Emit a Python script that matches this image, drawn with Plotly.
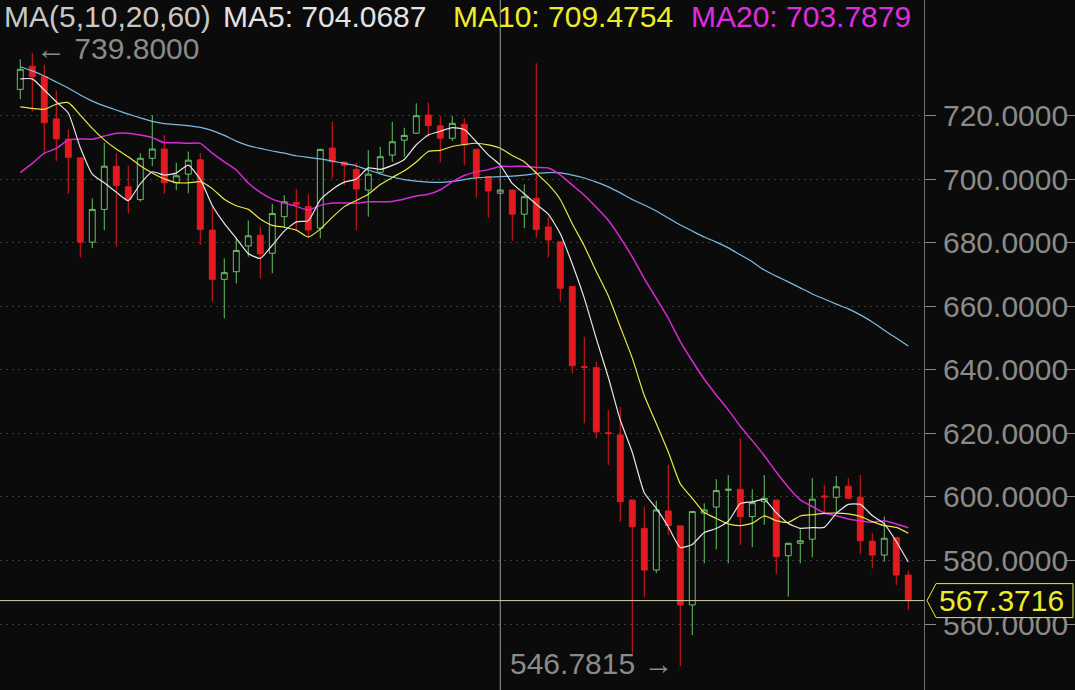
import plotly.graph_objects as go
import pandas as pd

# ---------------- data ----------------
idx = list(range(75))
opens = [728.3, 735.6, 732.3, 719.0, 712.6, 706.7, 680.2, 690.5, 704.1, 697.6,
         693.6, 706.6, 709.5, 698.9, 701.6, 706.1, 684.0, 668.5, 670.9, 679.0,
         682.4, 676.7, 688.2, 692.7, 691.4, 684.6, 709.8, 705.4, 703.1, 696.6,
         702.2, 707.6, 712.3, 714.5, 720.2, 716.8, 712.9, 717.3, 709.4, 700.8,
         695.6, 696.6, 689.0, 694.0, 685.0, 680.3, 666.2, 641.0, 640.7, 620.2,
         619.5, 599.0, 590.1, 577.0, 595.6, 590.9, 566.0, 594.9, 596.8, 602.1,
         602.4, 593.8, 598.5, 599.0, 581.5, 585.4, 586.7, 600.3, 599.9, 603.4,
         599.9, 586.1, 581.7, 587.2, 575.4]
highs = [737.8, 739.8, 736.0, 727.9, 715.7, 707.0, 694.0, 711.5, 708.2, 704.2,
         708.2, 720.2, 713.9, 705.2, 708.7, 708.2, 691.9, 675.1, 681.4, 687.0,
         685.1, 692.2, 695.0, 696.9, 695.3, 709.6, 718.1, 705.6, 705.2, 709.2,
         710.2, 718.1, 716.2, 723.9, 724.1, 719.9, 719.9, 719.2, 709.6, 701.0,
         696.8, 696.8, 698.4, 736.5, 688.1, 680.5, 666.4, 650.4, 642.6, 627.4,
         628.4, 599.2, 596.9, 598.8, 610.1, 591.1, 595.6, 598.0, 605.6, 606.9,
         618.5, 602.4, 606.9, 599.2, 585.6, 589.8, 605.9, 603.8, 606.6, 605.9,
         606.9, 588.6, 593.8, 587.4, 576.8]
lows = [725.2, 721.3, 708.2, 705.8, 695.4, 675.4, 678.3, 684.0, 678.8, 689.3,
        692.9, 704.2, 695.4, 696.6, 695.6, 679.3, 661.5, 656.2, 667.2, 675.6,
        668.8, 670.4, 684.6, 684.2, 681.9, 681.4, 700.3, 698.2, 684.0, 688.2,
        701.9, 705.5, 707.1, 714.3, 713.4, 705.3, 712.0, 704.5, 694.2, 687.9,
        695.4, 680.6, 684.6, 681.6, 675.4, 661.5, 638.9, 623.2, 618.5, 610.1,
        592.2, 550.8, 568.6, 576.0, 588.0, 546.7815, 556.5, 579.1, 583.5, 579.1,
        584.9, 584.2, 591.2, 575.7, 568.6, 579.1, 581.0, 594.6, 594.6, 599.4,
        582.0, 577.5, 579.6, 572.3, 564.4]
closes = [734.6, 732.3, 717.8, 712.7, 706.9, 680.2, 690.5, 704.1, 698.0, 693.6,
          706.6, 709.5, 698.9, 701.1, 706.0, 684.2, 668.5, 670.6, 677.6, 682.2,
          676.5, 689.2, 692.9, 692.1, 684.0, 709.4, 705.5, 704.4, 696.9, 701.6,
          707.1, 711.8, 713.8, 720.0, 716.9, 712.9, 717.6, 710.8, 700.8, 696.3,
          696.6, 689.0, 694.5, 684.2, 680.9, 665.7, 641.3, 640.8, 620.5, 620.0,
          598.5, 590.6, 577.0, 595.9, 591.0, 566.0, 595.4, 595.9, 602.0, 602.4,
          593.8, 598.2, 599.6, 581.2, 585.4, 586.2, 599.3, 600.0, 603.2, 599.6,
          586.2, 581.7, 587.0, 575.4, 567.3716]

# leading MA values (history before the visible window)
ma5_lead = [731.6, 731.6, 728.1, 724.4]
ma10_lead = [722.8, 722.3, 722.0, 723.6, 724.1, 720.2, 716.0, 712.4, 709.5]
ma20_lead = [702.1, 705.0, 708.2, 709.7, 712.4, 712.7, 712.6, 713.6, 714.5, 714.5,
             713.9, 713.1, 711.5, 711.5, 711.3, 711.3, 708.2, 705.5, 702.9]
ma60 = [735.4, 734.1, 732.5, 730.6, 728.7, 726.5, 724.6, 723.1, 721.8, 720.5,
        719.3, 718.2, 717.5, 717.2, 716.9, 716.3, 715.3, 713.8, 712.0, 710.6,
        709.7, 708.9, 708.2, 707.4, 706.9, 706.4, 705.7, 705.0, 704.2, 702.9,
        701.7, 700.7, 699.9, 699.4, 699.1, 699.0, 699.3, 699.9, 700.4, 700.7,
        700.8, 701.0, 701.3, 701.8, 702.1, 702.0, 701.3, 700.4, 699.1, 697.6,
        695.7, 693.6, 691.9, 690.0, 687.8, 685.6, 683.7, 681.8, 680.2, 678.4,
        676.2, 674.0, 671.4, 669.5, 667.7, 665.8, 663.9, 662.3, 660.7, 659.2,
        657.3, 655.1, 652.5, 650.0, 647.5]

ma_title = "MA(5,10,20,60)"
ma_labels = ["MA5", "MA10", "MA20"]
ma_label_values = [704.0687, 709.4754, 703.7879]
tick_vals = [560, 580, 600, 620, 640, 660, 680, 700, 720]
cross_idx = 40

# ---------------- style ----------------
BG = "#0b0b0b"
RED = "#e31b1f"
GREEN = "#66c466"
GRID = "#3a3a3a"
AXC = "#8a8a8a"
FONT = "Liberation Sans"
FS = 30
C_MA5, C_MA10, C_MA20, C_MA60 = "#e6e6e6", "#e8e84a", "#d62ad6", "#7dbbe4"
YEL = "#ecec2c"

Y_RANGE = [539.23, 756.42]
X_RANGE = [-1.69, 75.31]
XDOM = 924 / 1075


def moving(n, lead):
    s = pd.Series(closes).rolling(n).mean().tolist()
    return lead + s[len(lead):]


ma5 = moving(5, ma5_lead)
ma10 = moving(10, ma10_lead)
ma20 = moving(20, ma20_lead)

fig = go.Figure()
fig.add_trace(go.Candlestick(
    x=idx, open=opens, high=highs, low=lows, close=closes,
    increasing=dict(line=dict(color=GREEN, width=1), fillcolor=BG),
    decreasing=dict(line=dict(color=RED, width=1), fillcolor=RED),
    whiskerwidth=0, hoverinfo="skip", showlegend=False,
))
for vals, col, w in [(ma60, C_MA60, 1.2), (ma20, C_MA20, 1.5),
                     (ma10, C_MA10, 1.2), (ma5, C_MA5, 1.2)]:
    fig.add_trace(go.Scatter(x=idx, y=vals, mode="lines",
                             line=dict(color=col, width=w, shape="spline", smoothing=0.5),
                             hoverinfo="skip", showlegend=False))
# helper trace so the right-edge tick axis is drawn
fig.add_trace(go.Scatter(x=[None], y=[None], yaxis="y2", mode="lines",
                         hoverinfo="skip", showlegend=False))

fmt = lambda v: f"{v:.4f}"

# crosshair
fig.add_shape(type="line", xref="x", yref="paper", x0=cross_idx, x1=cross_idx,
              y0=0, y1=1, line=dict(color="#9a9a9a", width=1), layer="above")
fig.add_shape(type="line", xref="paper", yref="y", x0=0, x1=XDOM,
              y0=closes[-1], y1=closes[-1], line=dict(color="#d2d2aa", width=1),
              layer="above")
# last price tag
fig.add_shape(type="path", xref="paper", yref="y", xsizemode="pixel", ysizemode="pixel",
              xanchor=XDOM, yanchor=closes[-1],
              path="M 3 0 L 12 17 L 149 17 L 149 -17 L 12 -17 Z",
              fillcolor=BG, line=dict(color=YEL, width=1), layer="above")

# header texts
heads = [
    (ma_title, "#c8c8c8", 3),
    (f"{ma_labels[0]}: {fmt(ma_label_values[0])}", "#e4e4e4", 222),
    (f"{ma_labels[1]}: {fmt(ma_label_values[1])}", YEL, 452),
    (f"{ma_labels[2]}: {fmt(ma_label_values[2])}", "#e02ce0", 690),
]
for txt, col, px in heads:
    fig.add_annotation(text=txt, xref="paper", yref="paper", x=px / 1075, y=1,
                       xanchor="left", yanchor="top", xshift=-1, yshift=2,
                       showarrow=False, font=dict(family=FONT, size=FS, color=col))

hi_i = max(idx, key=lambda i: highs[i])
lo_i = min(idx, key=lambda i: lows[i])
fig.add_annotation(text="\u2190 " + fmt(highs[hi_i]), x=hi_i, y=highs[hi_i], xanchor="left",
                   yanchor="middle", xshift=2, yshift=4, showarrow=False,
                   font=dict(family=FONT, size=FS, color=AXC))
fig.add_annotation(text=fmt(lows[lo_i]) + " \u2192", x=lo_i, y=lows[lo_i], xanchor="right",
                   yanchor="middle", xshift=-5, yshift=3, showarrow=False,
                   font=dict(family=FONT, size=FS, color=AXC))
fig.add_annotation(text=fmt(closes[-1]), xref="paper", yref="y", x=1001 / 1075,
                   y=closes[-1], xanchor="center", yanchor="middle", showarrow=False,
                   font=dict(family=FONT, size=FS, color=YEL))

fig.update_layout(
    width=1075, height=690, margin=dict(l=0, r=0, t=0, b=0),
    paper_bgcolor=BG, plot_bgcolor=BG, showlegend=False,
    xaxis=dict(domain=[0, XDOM], range=X_RANGE, visible=False,
               rangeslider=dict(visible=False), fixedrange=True),
    yaxis=dict(range=Y_RANGE, side="right", tickvals=tick_vals,
               ticktext=[fmt(v) for v in tick_vals],
               tickfont=dict(family=FONT, size=FS, color=AXC),
               ticks="outside", ticklen=11, tickcolor=AXC, tickwidth=1,
               ticklabelstandoff=1,
               showline=True, linecolor="#707070", linewidth=1,
               showgrid=True, gridcolor=GRID, griddash="2px,4px", gridwidth=1,
               zeroline=False, fixedrange=True),
    yaxis2=dict(range=Y_RANGE, overlaying="y", anchor="free", position=1, side="right",
                tickvals=tick_vals, showticklabels=False, ticks="inside", ticklen=10,
                tickcolor=AXC, showgrid=False, showline=False, zeroline=False,
                fixedrange=True),
)

fig.write_html("out.html", config={"displayModeBar": False},
               post_script="document.body.style.margin='0';document.body.style.overflow='hidden';")
